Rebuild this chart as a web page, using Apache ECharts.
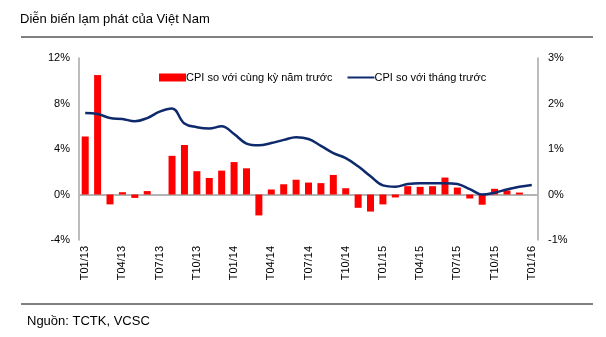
<!DOCTYPE html>
<html>
<head>
<meta charset="utf-8">
<script src="https://cdn.jsdelivr.net/npm/echarts@6/dist/echarts.min.js"></script>
<style>
html,body{margin:0;padding:0;background:#fff;}
#c{width:606px;height:337px;}
</style>
</head>
<body>
<div id="c"></div>
<script>
var categories = [
  'T01/13','T02/13','T03/13','T04/13','T05/13','T06/13','T07/13','T08/13','T09/13','T10/13','T11/13','T12/13',
  'T01/14','T02/14','T03/14','T04/14','T05/14','T06/14','T07/14','T08/14','T09/14','T10/14','T11/14','T12/14',
  'T01/15','T02/15','T03/15','T04/15','T05/15','T06/15','T07/15','T08/15','T09/15','T10/15','T11/15','T12/15',
  'T01/16'
];
var barName = 'CPI so với cùng kỳ năm trước';
var lineName = 'CPI so với tháng trước';
var barValues = [
  5.1, 10.5, -0.87, 0.2, -0.3, 0.3, 0, 3.4, 4.35, 2.05, 1.45, 2.1,
  2.85, 2.3, -1.84, 0.44, 0.9, 1.3, 1.05, 1.0, 1.72, 0.55, -1.17, -1.5,
  -0.87, -0.26, 0.73, 0.67, 0.73, 1.49, 0.61, -0.35, -0.9, 0.5, 0.35, 0.17,
  0
];
var lineValues = [
  1.79, 1.77, 1.68, 1.66, 1.61, 1.68, 1.82, 1.89, 1.56, 1.48, 1.45, 1.50,
  1.33, 1.12, 1.08, 1.13, 1.20, 1.26, 1.22, 1.07, 0.91, 0.80, 0.62, 0.40,
  0.20, 0.17, 0.23, 0.25, 0.25, 0.25, 0.23, 0.12, 0.0, 0.04, 0.11, 0.17,
  0.21
];
var titleText = 'Diễn biến lạm phát của Việt Nam';
var sourceText = 'Nguồn: TCTK, VCSC';

var FONT = '"Liberation Sans", Arial, sans-serif';
var chart = echarts.init(document.getElementById('c'));
chart.setOption({
  animation: false,
  backgroundColor: '#fff',
  textStyle: { fontFamily: FONT, color: '#000' },
  grid: { left: 79, right: 68, top: 58, bottom: 97, containLabel: false },
  legend: {
    left: 154, top: 67,
    itemWidth: 27, itemHeight: 8, itemGap: 14,
    textStyle: { fontFamily: FONT, fontSize: 11, color: '#000', padding: [0,0,0,-5] },
    data: [
      { name: barName, icon: 'rect' },
      { name: lineName, itemStyle: { opacity: 0 } }
    ]
  },
  xAxis: {
    type: 'category',
    data: categories,
    boundaryGap: true,
    axisLine: { show: false },
    axisTick: { show: false },
    axisLabel: { interval: 2, rotate: 90, margin: 6, fontSize: 11, color: '#000', fontFamily: FONT }
  },
  yAxis: [
    {
      type: 'value', min: -4, max: 12, interval: 4,
      axisLine: { show: true, lineStyle: { color: '#a6a6a6', width: 1.5 } },
      axisTick: { show: false },
      splitLine: { show: false },
      axisLabel: { formatter: '{value}%', margin: 9, fontSize: 11, color: '#000', fontFamily: FONT }
    },
    {
      type: 'value', min: -1, max: 3, interval: 1,
      axisLine: { show: true, lineStyle: { color: '#a6a6a6', width: 1.5 } },
      axisTick: { show: false },
      splitLine: { show: false },
      axisLabel: { formatter: '{value}%', margin: 10, fontSize: 11, color: '#000', fontFamily: FONT }
    }
  ],
  series: [
    {
      name: barName, type: 'bar', yAxisIndex: 0,
      data: barValues, barWidth: 7,
      itemStyle: { color: '#ff0000' },
      markLine: {
        silent: true, symbol: 'none', label: { show: false },
        lineStyle: { color: '#b4b4b4', width: 2, type: 'solid' },
        data: [{ yAxis: 0 }],
        z: 1
      }
    },
    {
      name: lineName, type: 'line', yAxisIndex: 1,
      data: lineValues, smooth: 0.4, symbol: 'none',
      lineStyle: { color: '#0e2a6c', width: 2.5 },
      itemStyle: { color: '#0e2a6c' },
      z: 5
    }
  ],
  graphic: [
    { type: 'text', left: 20, top: 13, style: { text: titleText, font: '13px ' + FONT, fill: '#000' } },
    { type: 'line', shape: { x1: 21, y1: 37, x2: 593, y2: 37 }, style: { stroke: '#000', lineWidth: 1 } },
    { type: 'line', shape: { x1: 21, y1: 304, x2: 593, y2: 304 }, style: { stroke: '#000', lineWidth: 1 } },
    { type: 'text', left: 27, top: 315, style: { text: sourceText, font: '13px ' + FONT, fill: '#000' } }
  ]
});
</script>
</body>
</html>
